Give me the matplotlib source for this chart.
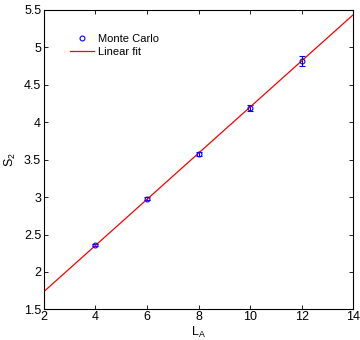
import numpy as np
import matplotlib
matplotlib.use('Agg')
import matplotlib.pyplot as plt
from matplotlib.lines import Line2D

plt.rcParams['font.family'] = ['Liberation Sans', 'DejaVu Sans']
plt.rcParams['font.size'] = 9

# Monte Carlo data
L_A = [4, 6, 8, 10, 12]
S2 = [2.36, 2.98, 3.58, 4.19, 4.82]
S2_err = [0.015, 0.02, 0.025, 0.04, 0.07]

# Linear fit
slope, intercept = 0.308, 1.122
x_fit = np.array([2, 14])
y_fit = slope * x_fit + intercept

fig = plt.figure(figsize=(3.6, 3.4), dpi=100)
ax = fig.add_axes([0.122, 0.09, 0.859, 0.881])

ax.errorbar(L_A, S2, yerr=S2_err, fmt='o', color='blue', mfc='none',
            ms=3.5, mew=0.8, elinewidth=0.8, capsize=2)
ax.plot(x_fit, y_fit, color='red', lw=0.9)

ax.set_xlim(2, 14)
ax.set_ylim(1.5, 5.5)
ax.set_xticks([2, 4, 6, 8, 10, 12, 14])
ax.set_yticks([1.5, 2, 2.5, 3, 3.5, 4, 4.5, 5, 5.5])
ax.set_yticklabels(['1.5', '2', '2.5', '3', '3.5', '4', '4.5', '5', '5.5'])
ax.tick_params(direction='in', top=True, right=True, length=3, width=0.6, pad=2)
ax.tick_params(axis='x', pad=1.5)
for s in ax.spines.values():
    s.set_linewidth(0.8)

ax.set_xlabel(r'L$_\mathregular{A}$', va='top')
ax.xaxis.set_label_coords(0.5, -0.053)
ax.set_ylabel(r'S$_\mathregular{2}$', labelpad=4)

handles = [
    Line2D([], [], ls='none', marker='o', color='blue', mfc='none', ms=3.5, mew=0.8),
    Line2D([], [], color='red', lw=0.9),
]
ax.legend(handles, ['Monte Carlo', 'Linear fit'], loc='upper left', frameon=False,
          bbox_to_anchor=(0.07, 0.935), handlelength=2.2, handletextpad=0.3,
          labelspacing=0.3, fontsize=8, borderaxespad=0)

fig.savefig('out.png', dpi=100)
